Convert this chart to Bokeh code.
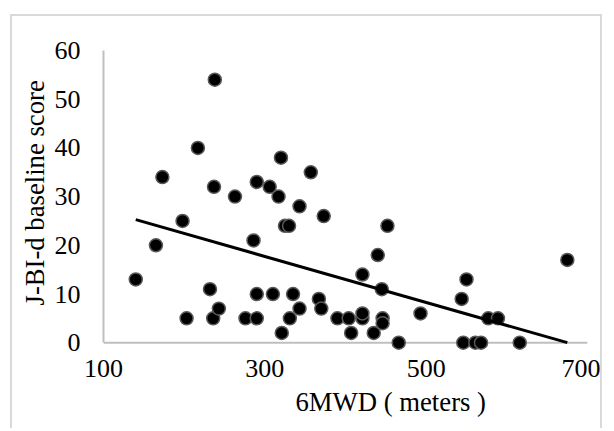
import numpy as np
from bokeh.plotting import figure
from bokeh.models import FixedTicker, Range1d, Title, Span
from bokeh.embed import file_html
from bokeh.resources import INLINE

# Data
mwd = [140, 165, 173, 198, 203, 217, 232, 237, 238, 236, 243, 263, 276, 286, 290,
       290, 290, 306, 310, 317, 320, 321, 325, 330, 331, 335, 343, 343, 357, 367,
       370, 373, 390, 404, 407, 421, 421, 421, 435, 440, 445, 446, 446, 452, 466,
       493, 544, 546, 550, 561, 568, 577, 589, 616, 675]
score = [13, 20, 34, 25, 5, 40, 11, 32, 54, 5, 7, 30, 5, 21, 33,
         10, 5, 32, 10, 30, 38, 2, 24, 24, 5, 10, 28, 7, 35, 9,
         7, 26, 5, 5, 2, 14, 5, 6, 2, 18, 11, 5, 4, 24, 0,
         6, 9, 0, 13, 0, 0, 5, 5, 0, 17]
x_ticks = [100, 300, 500, 700]
y_ticks = [0, 10, 20, 30, 40, 50, 60]
x_title = "6MWD ( meters )"
y_title = "J-BI-d baseline score"

FONT = "Liberation Serif"
AXIS_GRAY = "#bfbfbf"
BORDER = "2px solid #d9d9d9"

p = figure(width=592, height=414, output_backend="svg", toolbar_location=None,
           x_range=Range1d(x_ticks[0], x_ticks[-1]), y_range=Range1d(-1.6, y_ticks[-1]),
           min_border_left=91, min_border_right=17, min_border_top=34, min_border_bottom=80,
           background_fill_color="white", border_fill_color="white")
# outer chart border (open at the bottom, as in the cropped reference)
p.styles = {"margin-left": "10px", "margin-top": "14px",
            "border-left": BORDER, "border-top": BORDER, "border-right": BORDER}
p.outline_line_color = None
p.grid.visible = False

# axes
p.xaxis.ticker = FixedTicker(ticks=x_ticks)
p.yaxis.ticker = FixedTicker(ticks=y_ticks)
p.yaxis.bounds = (y_ticks[0], y_ticks[-1])
for ax in (p.xaxis, p.yaxis):
    ax.axis_line_color = AXIS_GRAY
    ax.axis_line_width = 2
    ax.major_tick_line_color = None
    ax.minor_tick_line_color = None
    ax.major_tick_out = 0
    ax.major_tick_in = 0
    ax.major_label_text_font = FONT
    ax.major_label_text_font_size = "26px"
    ax.major_label_text_color = "black"
p.xaxis.axis_line_color = None
p.xaxis.major_label_standoff = 9
p.yaxis.major_label_standoff = 23
# horizontal axis line drawn at y = 0, beneath the markers
p.add_layout(Span(location=y_ticks[0], dimension="width", line_color=AXIS_GRAY,
                  line_width=2, level="underlay"))

# axis titles
p.add_layout(Title(text=y_title, align="left", offset=45, standoff=4,
                   text_font=FONT, text_font_size="26.7px", text_font_style="normal",
                   text_color="black"), "left")
p.add_layout(Title(text=x_title, align="left", offset=192, standoff=10,
                   text_font=FONT, text_font_size="26.7px", text_font_style="normal",
                   text_color="black"), "below")

p.scatter(mwd, score, size=13, fill_color="black", line_color="#595959", line_width=1.5)

# linear trendline (least squares on the data), drawn over the markers
xs = np.array(mwd, dtype=float)
ys = np.array(score, dtype=float)
m, b = np.polyfit(xs, ys, 1)
x0 = xs.min()
x1 = min(xs.max(), -b / m) if m < 0 else xs.max()
p.line([x0, x1], [m * x0 + b, m * x1 + b], line_color="black", line_width=3)

open("out.html", "w").write(file_html(p, INLINE))
